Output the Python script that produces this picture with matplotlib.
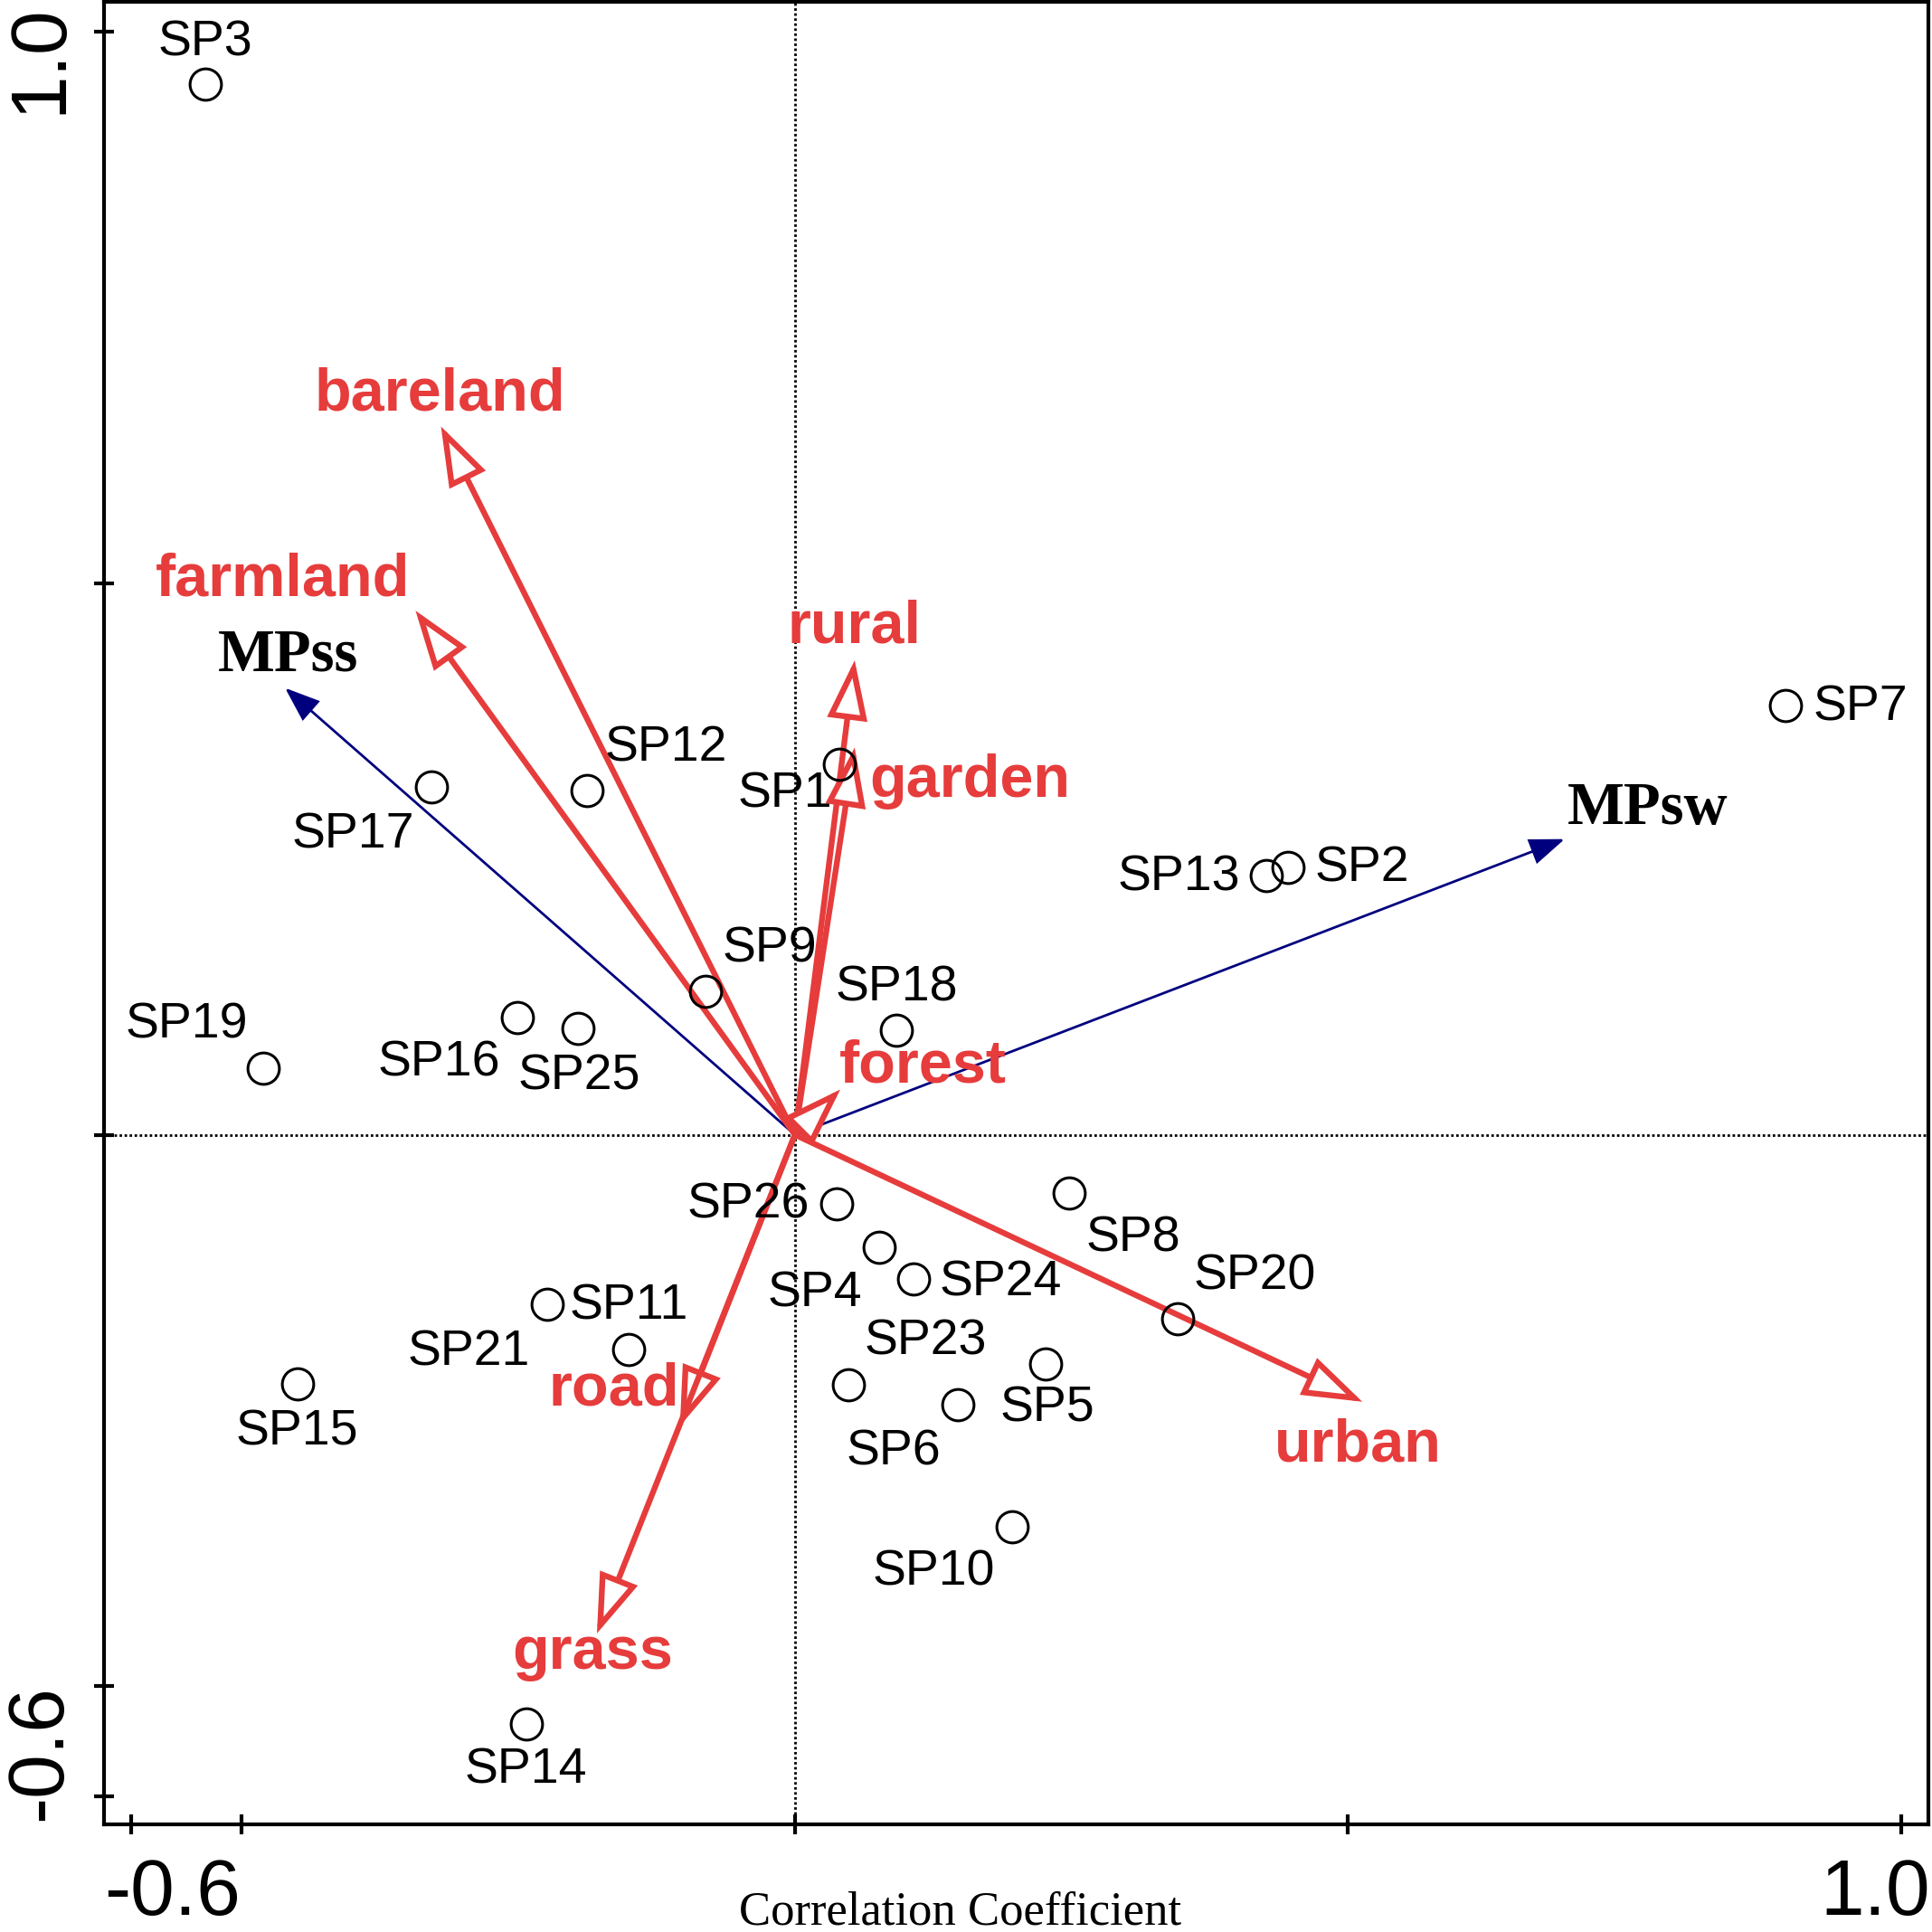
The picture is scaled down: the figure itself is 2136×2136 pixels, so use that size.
import matplotlib
matplotlib.use("Agg")
import matplotlib.pyplot as plt
import matplotlib.transforms as mtransforms

# sample scores (axis 1, axis 2)
sites = ['SP1', 'SP2', 'SP3', 'SP4', 'SP5', 'SP6', 'SP7', 'SP8', 'SP9', 'SP10',
         'SP11', 'SP12', 'SP13', 'SP14', 'SP15', 'SP16', 'SP17', 'SP18', 'SP19',
         'SP20', 'SP21', 'SP23', 'SP24', 'SP25', 'SP26']
site_x = [0.040, 0.446, -0.533, 0.076, 0.227, 0.147, 0.896, 0.248, -0.081, 0.196,
          -0.150, -0.188, 0.426, -0.243, -0.450, -0.251, -0.329, 0.092, -0.481,
          0.346, -0.224, 0.048, 0.107, -0.196, 0.038]
site_y = [0.336, 0.242, 0.952, -0.102, -0.208, -0.245, 0.389, -0.053, 0.130, -0.355,
          -0.195, 0.312, 0.235, -0.534, -0.226, 0.106, 0.315, 0.095, 0.060,
          -0.167, -0.154, -0.227, -0.131, 0.096, -0.063]

# land-use variables (red arrows)
landuse = ['bareland', 'farmland', 'rural', 'garden', 'forest', 'urban', 'road', 'grass']
landuse_x = [-0.320, -0.343, 0.054, 0.054, 0.041, 0.513, -0.104, -0.179]
landuse_y = [0.642, 0.475, 0.430, 0.351, 0.041, -0.242, -0.264, -0.452]

# microplastic variables (blue arrows)
mp = ['MPss', 'MPsw']
mp_x = [-0.461, 0.696]
mp_y = [0.405, 0.268]

# label placement
site_offsets = {
    'SP1': (-21.6, -11.8), 'SP2': (29.5, 0), 'SP3': (0, 17.2), 'SP4': (-25.6, -18.2),
    'SP5': (0.5, -17.2), 'SP6': (-25.6, -18.2), 'SP7': (29.5, -0.5), 'SP8': (25.6, -17.7),
    'SP9': (25.6, 17.2), 'SP10': (-31, -17.7), 'SP11': (0, 17.7), 'SP12': (31.4, 17.2),
    'SP13': (-34.9, -0.5), 'SP14': (0, -18.2), 'SP15': (0, -18.7), 'SP16': (-31, -17.7),
    'SP17': (-31, -18.7), 'SP18': (0, 17.2), 'SP19': (-30.5, 17.7), 'SP20': (30.5, 17.2),
    'SP21': (-31.4, -18.7), 'SP23': (31, 17.7), 'SP24': (34.9, -1), 'SP25': (0.5, -18.7),
    'SP26': (-35.4, 0),
}
landuse_label_pos = [(-0.321, 0.657), (-0.463, 0.489), (0.054, 0.446), (0.158, 0.306),
                     (0.116, 0.048), (0.509, -0.296), (-0.164, -0.245), (-0.183, -0.484)]
mp_label_pos = [(-0.458, 0.421), (0.771, 0.282)]

red = '#E63C3C'
navy = '#00007F'

fig = plt.figure(figsize=(10.68, 10.68), dpi=200)
ax = fig.add_axes([0.054, 0.0556, 0.944, 0.9435])
ax.set_xlim(-0.6244, 1.0246)
ax.set_ylim(-0.6253, 1.027)

ax.axvline(0, color='black', lw=1.0, ls=(0, (1, 1)), zorder=1)
ax.axhline(0, color='black', lw=1.0, ls=(0, (1, 1)), zorder=1)

for name, x, y in zip(mp, mp_x, mp_y):
    ax.annotate('', xy=(x, y), xytext=(0, 0),
                arrowprops=dict(arrowstyle='-|>,head_length=12,head_width=4.5',
                                mutation_scale=1, color=navy, lw=1.0,
                                shrinkA=0, shrinkB=0, joinstyle='miter'),
                zorder=2)

for name, x, y in zip(landuse, landuse_x, landuse_y):
    ax.annotate('', xy=(x, y), xytext=(0, 0),
                arrowprops=dict(arrowstyle='-|>,head_length=19,head_width=6.5',
                                mutation_scale=1, ec=red, fc='white', lw=2.3,
                                shrinkA=0, shrinkB=0, joinstyle='miter'),
                zorder=3)

ax.plot(site_x, site_y, 'o', ms=12.5, mfc='none', mec='black', mew=1.1, zorder=4)
for name, x, y in zip(sites, site_x, site_y):
    dx, dy = site_offsets[name]
    ax.annotate(name, (x, y), xytext=(dx, dy - 0.5), textcoords='offset points',
                ha='center', va='center', fontsize=20, family='Liberation Sans',
                zorder=5)

for name, (x, y) in zip(landuse, landuse_label_pos):
    ax.text(x, y, name, color=red, fontsize=24, fontweight='bold',
            family='Liberation Sans', ha='center', va='baseline', zorder=5)
for name, (x, y) in zip(mp, mp_label_pos):
    ax.text(x, y, name, color='black', fontsize=24, fontweight='bold',
            family='Liberation Serif', ha='center', va='baseline', zorder=5)

# axes frame and ticks
for sp in ax.spines.values():
    sp.set_linewidth(1.5)
ax.set_xticks([-0.6, -0.5, 0, 0.5, 1.0])
ax.set_yticks([-0.6, -0.5, 0, 0.5, 1.0])
ax.set_xticklabels([])
ax.set_yticklabels([])
ax.tick_params(direction='inout', length=8, width=1.5, top=False, right=False)

tx = mtransforms.blended_transform_factory(ax.transData, fig.transFigure)
ax.text(-0.5625, 0.009, '-0.6', transform=tx, fontsize=31.5, family='Liberation Sans',
        ha='center', va='baseline', clip_on=False)
ax.text(0.977, 0.009, '1.0', transform=tx, fontsize=31.5, family='Liberation Sans',
        ha='center', va='baseline', clip_on=False)
ty = mtransforms.blended_transform_factory(fig.transFigure, ax.transData)
ax.text(0.0314, 0.975, '1.0', transform=ty, fontsize=31.5, family='Liberation Sans',
        rotation=90, rotation_mode='anchor', ha='center', va='baseline', clip_on=False)
ax.text(0.0314, -0.560, '-0.6', transform=ty, fontsize=31.5, family='Liberation Sans',
        rotation=90, rotation_mode='anchor', ha='center', va='baseline', clip_on=False)

fig.text(0.497, 0.004, 'Correlation Coefficient', fontsize=19, family='Liberation Serif',
         ha='center', va='baseline')

fig.savefig('out.png', dpi=200)
